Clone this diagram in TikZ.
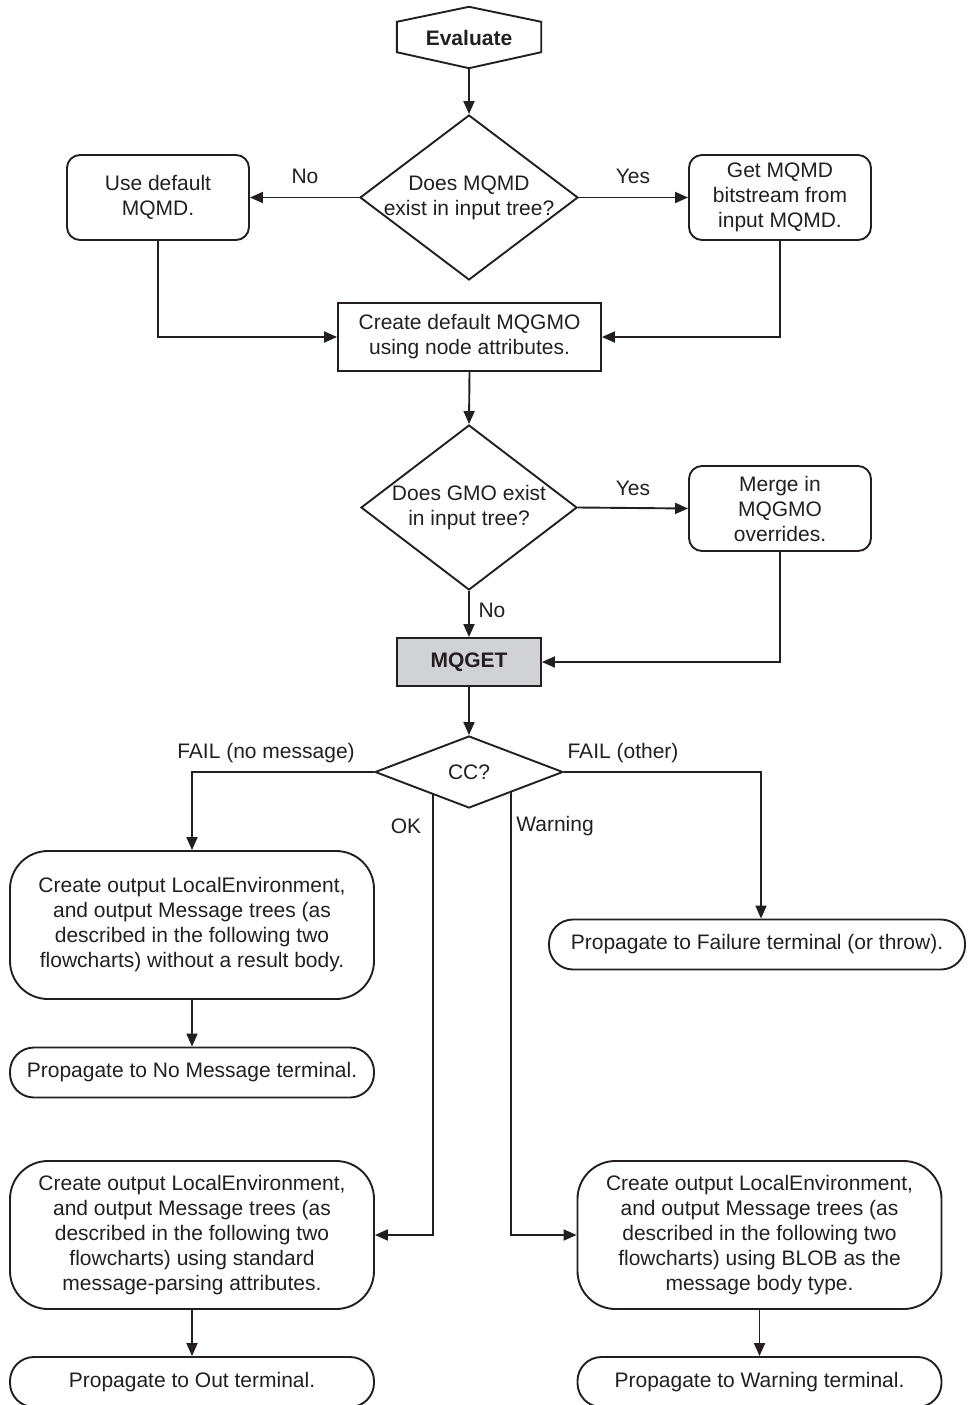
\documentclass[tikz,border=0pt]{standalone}
\usepackage{fontspec}
\setmainfont{Liberation Sans}
\usetikzlibrary{arrows.meta,shapes.geometric}
\definecolor{ink}{HTML}{231F20}
\definecolor{mqgray}{HTML}{D1D2D4}
\newcommand{\ff}{\fontsize{21}{25}\selectfont}
\begin{document}
\begin{tikzpicture}[x=1pt,y=-1pt,
  every node/.style={font=\ff, text=ink},
  stroke/.style={draw=ink, line width=1.9pt},
  arr/.style={draw=ink, line width=1.9pt, -{Triangle[length=13pt,width=11pt]}},
  rbox/.style={stroke, rectangle, rounded corners=13pt, minimum width=182pt, minimum height=85pt, align=center, inner sep=0pt},
  sbox/.style={stroke, rectangle, align=center, inner sep=0pt},
  bigbox/.style={stroke, rectangle, rounded corners=38pt, minimum width=364pt, minimum height=148pt, align=center, inner sep=0pt},
  termbox/.style={stroke, rectangle, rounded corners=24pt, minimum height=50pt, inner sep=0pt},
  dia/.style={stroke, diamond, inner sep=-3pt, align=center},
  lbl/.style={inner sep=0pt}
]
\useasboundingbox (0,0) rectangle (967,1405);

% Start hexagon
\node[inner sep=0pt, minimum width=144pt, minimum height=61pt, font=\ff\bfseries] (eval) at (469,37.5) {Evaluate};
\draw[stroke, line join=miter] (eval.north) -- ([yshift=-15pt]eval.north east) -- ([yshift=16pt]eval.south east)
  -- (eval.south) -- ([yshift=16pt]eval.south west) -- ([yshift=-15pt]eval.north west) -- cycle;

% First decision
\node[dia, aspect=1.32, minimum width=218pt, minimum height=165pt] (d1) at (469,197.5) {Does MQMD\\exist in input tree?};
\node[rbox] (usedef) at (158,197.5) {Use default\\MQMD.};
\node[rbox] (getmqmd) at (780,197.5) {Get MQMD\\bitstream from\\input MQMD.};
\node[sbox, minimum width=263pt, minimum height=68pt] (create) at (469.5,337) {Create default MQGMO\\using node attributes.};

% Second decision
\node[dia, aspect=1.32, minimum width=216pt, minimum height=165pt] (d2) at (469,507.5) {Does GMO exist\\in input tree?};
\node[rbox] (merge) at (780,508.5) {Merge in\\MQGMO\\overrides.};
\node[sbox, fill=mqgray, minimum width=144pt, minimum height=48pt, font=\ff\bfseries] (mqget) at (469,662) {MQGET};

% CC decision
\node[dia, aspect=2.6, minimum width=188pt, minimum height=72pt] (cc) at (469,772) {CC?};

% Outcome boxes
\node[bigbox] (box1) at (192,925) {Create output LocalEnvironment,\\and output Message trees (as\\described in the following two\\flowcharts) without a result body.};
\node[termbox, minimum width=364pt] (nomsg) at (192,1072.5) {Propagate to No Message terminal.};
\node[termbox, minimum width=416pt] (fail) at (757,944.5) {Propagate to Failure terminal (or throw).};
\node[bigbox] (box3) at (192,1235) {Create output LocalEnvironment,\\and output Message trees (as\\described in the following two\\flowcharts) using standard\\message-parsing attributes.};
\node[termbox, minimum width=364pt] (outterm) at (192,1382) {Propagate to Out terminal.};
\node[bigbox] (box4) at (759.5,1235) {Create output LocalEnvironment,\\and output Message trees (as\\described in the following two\\flowcharts) using BLOB as the\\message body type.};
\node[termbox, minimum width=364pt] (warnterm) at (759.5,1382) {Propagate to Warning terminal.};

% Labels
\node[lbl] (lno1) at (305,176) {No};
\node[lbl] (lyes1) at (633,176) {Yes};
\node[lbl] (lyes2) at (633,488) {Yes};
\node[lbl] (lno2) at (492,610) {No};
\node[lbl] (lfailnm) at (266,753) {FAIL (no message)};
\node[lbl] (lfailot) at (623,753) {FAIL (other)};
\node[lbl] (lok) at (406,826) {OK};
\node[lbl] (lwarn) at (555,826) {Warning};

% Connectors
\draw[arr] (eval.south) -- (d1.north);
\draw[arr] (d1.west) -- (usedef.east);
\draw[arr] (d1.east) -- (getmqmd.west);
\draw[arr] (usedef.south) |- (create.west);
\draw[arr] (getmqmd.south) |- (create.east);
\draw[arr] (create.south) -- (d2.north);
\draw[arr] (d2.east) -- (merge.west);
\draw[arr] (d2.south) -- (mqget.north);
\draw[arr] (merge.south) |- (mqget.east);
\draw[arr] (mqget.south) -- (cc.north);
\draw[arr] (cc.west) -| (box1.north);
\draw[arr] (cc.east) -| ([xshift=4pt]fail.north);
\coordinate (okstart) at (433,794.2);
\coordinate (warnstart) at (511,791.9);
\draw[arr] (okstart) |- (box3.east);
\draw[arr] (warnstart) |- (box4.west);
\draw[arr] (box1.south) -- (nomsg.north);
\draw[arr] (box3.south) -- (outterm.north);
\draw[arr] (box4.south) -- (warnterm.north);
\end{tikzpicture}
\end{document}
